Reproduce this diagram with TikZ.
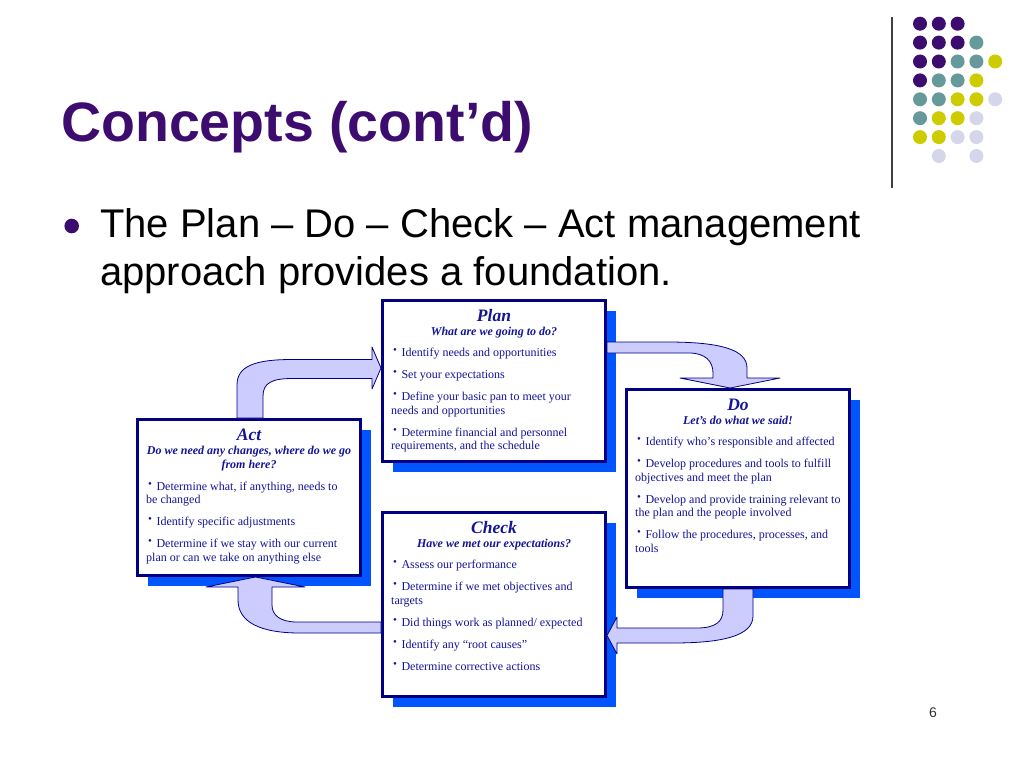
\documentclass[tikz,border=0pt]{standalone}
\usepackage{fontspec}
\setmainfont{Liberation Serif}
\setsansfont{Liberation Sans}
\usepackage{tikz}
\usetikzlibrary{positioning,shadows}

\definecolor{slidepurple}{RGB}{60,12,110}
\definecolor{dotteal}{RGB}{102,153,153}
\definecolor{dotyellow}{RGB}{204,204,0}
\definecolor{dotlilac}{RGB}{214,214,234}
\definecolor{boxnavy}{RGB}{0,0,128}
\definecolor{boxtext}{RGB}{20,20,150}
\definecolor{shadowblue}{RGB}{0,85,255}
\definecolor{arrowfill}{RGB}{204,204,255}

\newcommand{\pdcaitem}{\hspace*{2pt}\raisebox{3pt}{\fontsize{11}{11}\selectfont\textbullet}\hspace{4.5pt}}

\begin{document}
\begin{tikzpicture}[
    x=1pt, y=-1pt,
    pdcabox/.style={draw=boxnavy, line width=3pt, fill=white, minimum width=223pt,
      drop shadow={shadow xshift=10pt, shadow yshift=-10pt, fill=shadowblue, opacity=1}},
    head/.style={anchor=base, inner sep=0pt, text=boxtext, font=\fontsize{17.5}{20}\selectfont\bfseries\itshape},
    subhead/.style={anchor=base, inner sep=0pt, text=boxtext, align=center, font=\fontsize{12}{14}\selectfont\bfseries\itshape},
    items/.style={anchor=base west, inner sep=0pt, text=boxtext, align=left, font=\fontsize{12}{13.5}\selectfont},
    blockarrow/.style={draw=boxnavy, line width=0.8pt, fill=arrowfill, line join=round},
    slidedot/.style={circle, inner sep=0pt, minimum size=14pt}
  ]
  \fill[white] (0,0) rectangle (1024,768);
  \useasboundingbox (0,0) rectangle (1024,768);

  % slide title and bullet (multi-line nodes sit on their last baseline)
  \node[anchor=base west, inner sep=0pt, text=slidepurple, font=\sffamily\bfseries\fontsize{55.5}{60}\selectfont] (title) at (61,141.7) {Concepts (cont’d)};
  \node[slidedot, fill=slidepurple, minimum size=14.6pt] (bullet) at (71.7,226) {};
  \node[anchor=base west, inner sep=0pt, align=left, font=\sffamily\fontsize{40}{48}\selectfont] (intro) at (100,285) {The Plan – Do – Check – Act management\\approach provides a foundation.};

  % corner decoration
  \draw[line width=1.5pt, black!75] (892,17) -- (892,188);
  \foreach \c/\r/\tone in {0/0/slidepurple, 1/0/slidepurple, 2/0/slidepurple,
      0/1/slidepurple, 1/1/slidepurple, 2/1/slidepurple, 3/1/dotteal,
      0/2/slidepurple, 1/2/slidepurple, 2/2/dotteal, 3/2/dotteal, 4/2/dotyellow,
      0/3/slidepurple, 1/3/dotteal, 2/3/dotteal, 3/3/dotyellow,
      0/4/dotteal, 1/4/dotteal, 2/4/dotyellow, 3/4/dotyellow, 4/4/dotlilac,
      0/5/dotteal, 1/5/dotyellow, 2/5/dotyellow, 3/5/dotlilac,
      0/6/dotyellow, 1/6/dotyellow, 2/6/dotlilac, 3/6/dotlilac,
      1/7/dotlilac, 3/7/dotlilac}
    \node[slidedot, fill=\tone] (dot-\c-\r) at (920+18.8*\c, 23.7+18.9*\r) {};

  % the four boxes
  \node[pdcabox, minimum height=161pt] (plan) at (494,381) {};
  \node[pdcabox, minimum height=156pt] (act) at (249,497.5) {};
  \node[pdcabox, minimum height=198pt] (do) at (738,488.5) {};
  \node[pdcabox, minimum height=184pt] (check) at (494,604.5) {};

  % plan
  \node[head] (planhd) at (plan.north |- 0,321) {Plan};
  \node[subhead] (plansub) at (plan.north |- 0,335.5) {What are we going to do?};
  \node[items] (planlist) at (391,449.5) {\pdcaitem Identify needs and opportunities\\[8.5pt]
    \pdcaitem Set your expectations\\[8.5pt]
    \pdcaitem Define your basic pan to meet your\\needs and opportunities\\[8.5pt]
    \pdcaitem Determine financial and personnel\\requirements, and the schedule};

  % act
  \node[head] (acthd) at (act.north |- 0,440) {Act};
  \node[subhead] (actsub) at (act.north |- 0,468.5) {Do we need any changes, where do we go\\from here?};
  \node[items] (actlist) at (146,561) {\pdcaitem Determine what, if anything, needs to\\be changed\\[8.5pt]
    \pdcaitem Identify specific adjustments\\[8.5pt]
    \pdcaitem Determine if we stay with our current\\plan or can we take on anything else};

  % do
  \node[head] (dohd) at (do.north |- 0,410) {Do};
  \node[subhead] (dosub) at (do.north |- 0,424.5) {Let’s do what we said!};
  \node[items] (dolist) at (635,552) {\pdcaitem Identify who’s responsible and affected\\[8.5pt]
    \pdcaitem Develop procedures and tools to fulfill\\objectives and meet the plan\\[8.5pt]
    \pdcaitem Develop and provide training relevant to\\the plan and the people involved\\[8.5pt]
    \pdcaitem Follow the procedures, processes, and\\tools};

  % check
  \node[head] (checkhd) at (check.north |- 0,533) {Check};
  \node[subhead] (checksub) at (check.north |- 0,547.5) {Have we met our expectations?};
  \node[items] (checklist) at (391,670) {\pdcaitem Assess our performance\\[8.5pt]
    \pdcaitem Determine if we met objectives and\\targets\\[8.5pt]
    \pdcaitem Did things work as planned/ expected\\[8.5pt]
    \pdcaitem Identify any “root causes”\\[8.5pt]
    \pdcaitem Determine corrective actions};

  % act -> plan
  \draw[blockarrow] (act.north -| 237,0) -- (237,385) .. controls (237,366) and (255,359.5) .. (292,359.5)
    -- (372,359.5) -- (372,347) -- (plan.west |- 0,368) -- (372,389) -- (372,378.5) -- (292,378.5)
    .. controls (272,378.5) and (263,383) .. (263,396) -- (act.north -| 263,0) -- cycle;

  % plan -> do
  \draw[blockarrow] (plan.east |- 0,342) -- (667,342) .. controls (722,342) and (747,350) .. (747,368)
    -- (747,378) -- (780,378) -- (do.north -| 730,0) -- (680,378) -- (713,378) -- (713,373)
    .. controls (713,361) and (705,353) .. (689,353) -- (plan.east |- 0,353) -- cycle;

  % do -> check
  \draw[blockarrow] (do.south -| 723,0) -- (do.south -| 753,0) -- (753,616) .. controls (753,636) and (722,643) .. (673,643)
    -- (617,643) -- (617,654) -- (check.east |- 0,635.5) -- (617,617) -- (617,628) -- (697,628)
    .. controls (715,628) and (723,622) .. (723,610) -- cycle;

  % check -> act
  \draw[blockarrow] (check.west |- 0,622) -- (297,622) .. controls (280,622) and (272,615) .. (272,605)
    -- (272,587) -- (305,587) -- (act.south -| 255.5,0) -- (206,587) -- (238,587) -- (238,600)
    .. controls (238,622) and (260,633) .. (300,633) -- (check.west |- 0,633) -- cycle;

  % page number
  \node[font=\sffamily\fontsize{14}{14}\selectfont, text=black!80] (pagenum) at (933,713) {6};
\end{tikzpicture}
\end{document}
